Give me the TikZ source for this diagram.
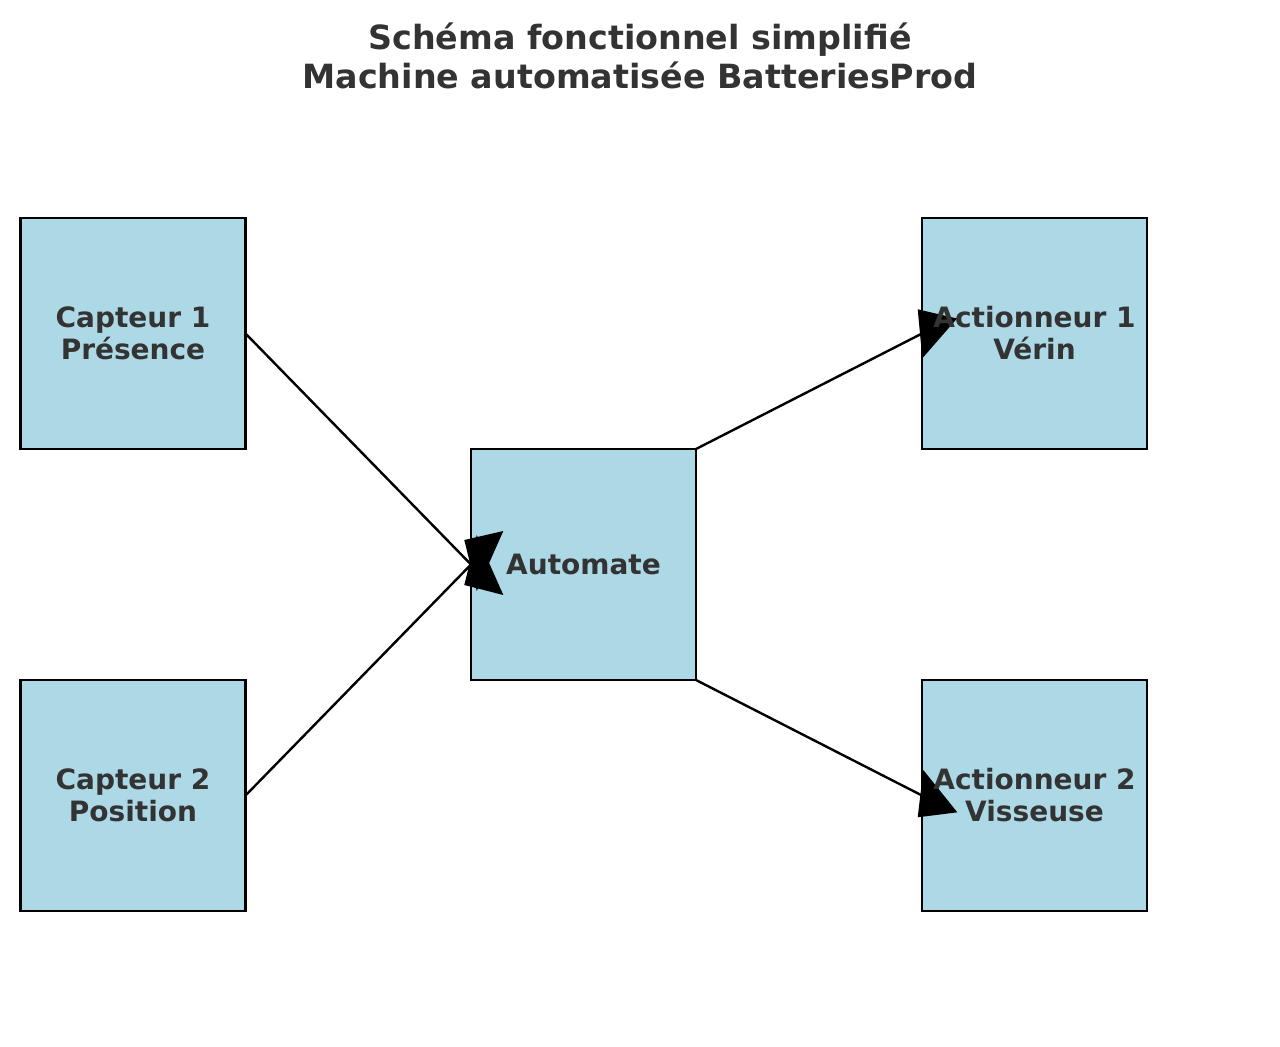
\documentclass[tikz,border=0pt]{standalone}
\usepackage{fontspec}
\setmainfont{DejaVu Sans}
\usetikzlibrary{calc}
\usetikzlibrary{positioning}
\definecolor{boxblue}{HTML}{ADD8E6}
\definecolor{txtgray}{HTML}{333333}
\tikzset{every picture/.style={/utils/exec={\bfseries}}}

\begin{document}
\begin{tikzpicture}[x=0.75pt,y=-0.75pt,
  node distance=173.25pt,
  block/.style={draw,line width=1.8pt,fill=boxblue,minimum width=168.75pt,
    minimum height=173.25pt,inner sep=0pt,outer sep=0pt},
  caption/.style={text=txtgray,align=center,
    font=\fontsize{21}{24}\selectfont\bfseries},
  link/.style={line width=1.8pt},
  head/.style={fill=black}]

  \useasboundingbox (0,0) rectangle (1280,1046);

  % title
  \node [text=txtgray,align=center,font=\fontsize{25}{29.25}\selectfont\bfseries]
    at (640,55.5) (title) {Schéma fonctionnel simplifié\\Machine automatisée BatteriesProd};

  % blocks
  \node [block] at (133,333.5) (cap1) {};
  \node [block, below=of cap1] (cap2) {};
  \node [block] at (583.5,564.5) (auto) {};
  \node [block] at (1034.5,333.5) (act1) {};
  \node [block, below=of act1] (act2) {};

  % links
  \draw [link] (cap1.east) -- (auto.west);
  \draw [link] (cap2.east) -- (auto.west);
  \draw [link] (auto.north east) -- (act1.west);
  \draw [link] (auto.south east) -- (act2.west);

  % heads
  \fill [head] ($(auto.west)+(-6.7,-24.5)$) -- ($(auto.west)+(32.3,-33.5)$)
    -- ($(auto.west)+(5.75,26.5)$) -- cycle;
  \fill [head] ($(auto.west)+(-6.7,20.5)$) -- ($(auto.west)+(32.3,30.5)$)
    -- ($(auto.west)+(5.75,-29.5)$) -- cycle;
  \fill [head] ($(act1.west)+(-4.3,-24.2)$) -- ($(act1.west)+(35,-15)$)
    -- ($(act1.west)+(0.3,24.8)$) -- cycle;
  \fill [head] ($(act2.west)+(1.3,-25.5)$) -- ($(act2.west)+(-4.3,21.8)$)
    -- ($(act2.west)+(35.3,16.8)$) -- cycle;

  % texts
  \node [caption] at (cap1) (cap1txt) {Capteur 1\\Présence};
  \node [caption] at (cap2) (cap2txt) {Capteur 2\\Position};
  \node [caption] at (auto) (autotxt) {Automate};
  \node [caption] at (act1) (act1txt) {Actionneur 1\\Vérin};
  \node [caption] at (act2) (act2txt) {Actionneur 2\\Visseuse};

\end{tikzpicture}
\end{document}
